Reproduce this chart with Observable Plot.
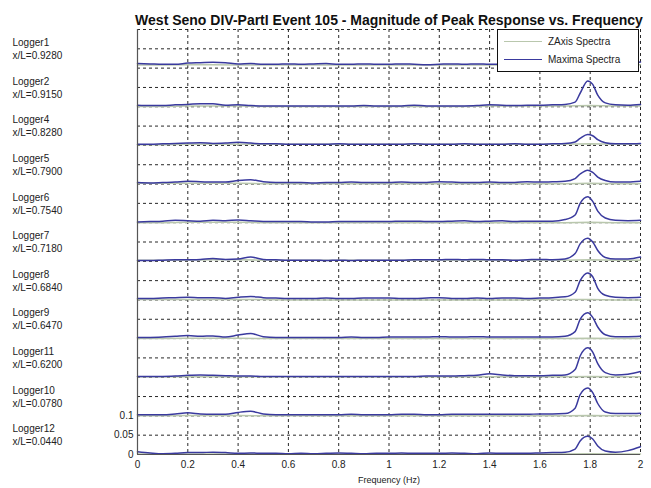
<!DOCTYPE html>
<html>
<head>
<meta charset="utf-8">
<script src="https://cdn.jsdelivr.net/npm/d3@7"></script>
<script src="https://cdn.jsdelivr.net/npm/@observablehq/plot@0.6"></script>
<style>
  html, body { margin: 0; padding: 0; background: #fff; }
  #wrap { position: relative; width: 651px; height: 488px; font-family: "Liberation Sans", Arial, sans-serif; }
  #legend { position: absolute; left: 497px; top: 29px; width: 142px; height: 43px; background: #fff; border: 1px solid #111; box-sizing: border-box; font-size: 10px; color: #222; }
  #legend .row { position: absolute; left: 6px; height: 14px; display: flex; align-items: center; }
  #legend .sw { width: 38px; height: 0; margin-right: 6px; }
</style>
</head>
<body>
<div id="wrap">
  <div id="chart"></div>
  <div id="legend">
    <div class="row" style="top:4px"><div class="sw" style="border-top:1.2px solid #b9c7ad"></div><span>ZAxis Spectra</span></div>
    <div class="row" style="top:22px"><div class="sw" style="border-top:1.5px solid #3a3a9e"></div><span>Maxima Spectra</span></div>
  </div>
</div>
<script>
const TITLE = "West Seno DIV-PartI Event 105 - Magnitude of Peak Response vs. Frequency";
const X_LABEL = "Frequency (Hz)";
const X_TICKS = [0, 0.2, 0.4, 0.6, 0.8, 1, 1.2, 1.4, 1.6, 1.8, 2];
const Y_TICKS = [0, 0.05, 0.1];
const LOGGERS = ["Logger1", "Logger2", "Logger4", "Logger5", "Logger6", "Logger7", "Logger8", "Logger9", "Logger11", "Logger10", "Logger12"];
const XL = ["0.9280", "0.9150", "0.8280", "0.7900", "0.7540", "0.7180", "0.6840", "0.6470", "0.6200", "0.0780", "0.0440"];
const PANEL_STEP = 0.1;

// frequency samples for the Maxima spectra (Hz)
const FREQ = [0,0.05,0.1,0.15,0.2,0.25,0.3,0.35,0.4,0.45,0.5,0.55,0.6,0.65,0.7,0.75,0.8,0.85,0.9,0.95,1.0,1.05,1.1,1.15,1.2,1.25,1.3,1.35,1.4,1.45,1.5,1.55,1.6,1.65,1.7,1.74,1.76,1.79,1.81,1.83,1.86,1.9,1.95,2.0];

const MAX_LOGGER1  = [0.012,0.011,0.010,0.010,0.013,0.014,0.015,0.014,0.011,0.012,0.010,0.010,0.011,0.010,0.011,0.012,0.010,0.010,0.011,0.010,0.010,0.011,0.010,0.009,0.010,0.011,0.010,0.011,0.010,0.010,0.011,0.012,0.010,0.011,0.012,0.014,0.018,0.022,0.020,0.016,0.012,0.011,0.012,0.016];
const MAX_LOGGER2  = [0.004,0.003,0.003,0.005,0.006,0.008,0.008,0.004,0.005,0.003,0.002,0.002,0.002,0.002,0.002,0.002,0.002,0.002,0.003,0.002,0.002,0.002,0.004,0.002,0.002,0.002,0.002,0.003,0.005,0.004,0.003,0.004,0.004,0.005,0.006,0.012,0.035,0.067,0.058,0.030,0.010,0.005,0.004,0.006];
const MAX_LOGGER4  = [0.003,0.003,0.004,0.005,0.006,0.007,0.005,0.006,0.008,0.006,0.004,0.004,0.003,0.003,0.003,0.003,0.004,0.003,0.003,0.003,0.003,0.003,0.004,0.003,0.003,0.003,0.004,0.003,0.003,0.003,0.004,0.003,0.003,0.004,0.005,0.009,0.018,0.028,0.025,0.015,0.007,0.004,0.004,0.005];
const MAX_LOGGER5  = [0.004,0.003,0.004,0.005,0.007,0.006,0.005,0.005,0.009,0.011,0.006,0.004,0.004,0.004,0.003,0.004,0.004,0.005,0.004,0.004,0.004,0.005,0.004,0.004,0.006,0.005,0.004,0.004,0.005,0.004,0.004,0.006,0.005,0.006,0.007,0.014,0.026,0.036,0.030,0.018,0.009,0.005,0.005,0.007];
const MAX_LOGGER6  = [0.002,0.003,0.004,0.006,0.005,0.004,0.006,0.005,0.007,0.005,0.003,0.003,0.003,0.003,0.002,0.002,0.003,0.003,0.003,0.003,0.003,0.004,0.004,0.003,0.003,0.004,0.005,0.003,0.004,0.005,0.003,0.004,0.004,0.004,0.008,0.020,0.050,0.067,0.055,0.030,0.012,0.006,0.005,0.006];
const MAX_LOGGER7  = [0.002,0.002,0.003,0.004,0.004,0.005,0.007,0.005,0.006,0.011,0.005,0.004,0.003,0.003,0.003,0.002,0.003,0.002,0.003,0.003,0.003,0.003,0.004,0.004,0.004,0.005,0.004,0.005,0.004,0.004,0.003,0.004,0.005,0.004,0.006,0.020,0.045,0.060,0.050,0.028,0.010,0.006,0.006,0.011];
const MAX_LOGGER8  = [0.004,0.004,0.005,0.006,0.007,0.006,0.006,0.004,0.007,0.009,0.006,0.005,0.004,0.004,0.004,0.005,0.004,0.004,0.005,0.005,0.005,0.004,0.004,0.005,0.006,0.004,0.004,0.005,0.004,0.005,0.005,0.004,0.005,0.006,0.008,0.020,0.050,0.070,0.060,0.030,0.012,0.007,0.006,0.007];
const MAX_LOGGER9  = [0.003,0.003,0.004,0.006,0.008,0.006,0.007,0.004,0.009,0.013,0.005,0.003,0.003,0.003,0.003,0.003,0.003,0.004,0.003,0.003,0.004,0.004,0.004,0.004,0.005,0.004,0.004,0.005,0.004,0.004,0.004,0.004,0.004,0.004,0.006,0.018,0.050,0.067,0.055,0.030,0.010,0.005,0.005,0.006];
const MAX_LOGGER11 = [0.002,0.002,0.002,0.003,0.005,0.006,0.005,0.004,0.003,0.003,0.002,0.002,0.002,0.002,0.002,0.002,0.002,0.002,0.002,0.002,0.002,0.002,0.002,0.003,0.003,0.003,0.004,0.005,0.009,0.006,0.004,0.004,0.004,0.005,0.006,0.020,0.055,0.076,0.065,0.035,0.012,0.006,0.008,0.015];
const MAX_LOGGER10 = [0.003,0.003,0.003,0.005,0.008,0.005,0.004,0.004,0.009,0.012,0.005,0.003,0.003,0.003,0.003,0.003,0.003,0.004,0.003,0.003,0.003,0.004,0.004,0.003,0.003,0.004,0.004,0.004,0.004,0.004,0.004,0.004,0.005,0.005,0.006,0.020,0.055,0.072,0.060,0.032,0.010,0.006,0.006,0.007];
const MAX_LOGGER12 = [0.007,0.004,0.002,0.003,0.005,0.005,0.006,0.005,0.003,0.004,0.003,0.003,0.002,0.003,0.002,0.003,0.004,0.003,0.002,0.003,0.003,0.004,0.003,0.003,0.003,0.004,0.003,0.002,0.004,0.003,0.003,0.003,0.004,0.005,0.006,0.014,0.035,0.047,0.040,0.022,0.009,0.006,0.010,0.020];

// frequency samples for the ZAxis spectra (Hz)
const FREQ_Z = [0,0.1,0.2,0.3,0.4,0.5,0.6,0.7,0.8,0.9,1.0,1.1,1.2,1.3,1.4,1.5,1.6,1.7,1.8,1.9,2.0];
const Z_LOGGER1  = [0.008,0.008,0.009,0.009,0.008,0.008,0.008,0.008,0.008,0.008,0.008,0.008,0.008,0.008,0.008,0.008,0.008,0.008,0.009,0.008,0.009];
const Z_LOGGER2  = [0.001,0.001,0.002,0.002,0.002,0.001,0.001,0.001,0.001,0.001,0.001,0.001,0.001,0.001,0.002,0.002,0.002,0.002,0.003,0.002,0.002];
const Z_LOGGER4  = [0.002,0.002,0.003,0.003,0.003,0.003,0.003,0.003,0.003,0.003,0.003,0.003,0.003,0.003,0.003,0.003,0.003,0.003,0.004,0.003,0.003];
const Z_LOGGER5  = [0.002,0.002,0.002,0.002,0.002,0.001,0.001,0.001,0.001,0.001,0.001,0.001,0.001,0.001,0.001,0.001,0.001,0.001,0.002,0.001,0.001];
const Z_LOGGER6  = [0.000,0.000,0.001,0.001,0.001,0.000,0.000,0.000,0.000,0.000,0.000,0.000,0.000,0.000,0.000,0.000,0.000,0.000,0.001,0.000,0.000];
const Z_LOGGER7  = [0.003,0.003,0.003,0.004,0.004,0.003,0.003,0.003,0.003,0.003,0.003,0.003,0.003,0.003,0.003,0.003,0.003,0.003,0.004,0.003,0.003];
const Z_LOGGER8  = [0.001,0.001,0.001,0.001,0.001,0.001,0.000,0.000,0.000,0.000,0.000,0.000,0.000,0.000,0.000,0.000,0.001,0.001,0.001,0.000,0.000];
const Z_LOGGER9  = [0.000,0.000,0.001,0.001,0.001,0.000,0.000,0.000,0.000,0.000,0.000,0.000,0.000,0.000,0.000,0.000,0.000,0.000,0.001,0.000,0.000];
const Z_LOGGER11 = [0.001,0.001,0.001,0.001,0.001,0.001,0.001,0.001,0.001,0.001,0.001,0.001,0.001,0.001,0.001,0.001,0.001,0.001,0.002,0.001,0.001];
const Z_LOGGER10 = [0.000,0.000,0.001,0.001,0.001,0.000,0.000,0.000,0.000,0.000,0.000,0.000,0.000,0.000,0.000,0.000,0.000,0.000,0.001,0.000,0.000];
const Z_LOGGER12 = [0.001,0.001,0.001,0.001,0.001,0.001,0.001,0.001,0.001,0.001,0.001,0.001,0.001,0.001,0.001,0.001,0.001,0.001,0.002,0.001,0.001];

const MAXIMA = [MAX_LOGGER1, MAX_LOGGER2, MAX_LOGGER4, MAX_LOGGER5, MAX_LOGGER6, MAX_LOGGER7, MAX_LOGGER8, MAX_LOGGER9, MAX_LOGGER11, MAX_LOGGER10, MAX_LOGGER12];
const ZAXIS = [Z_LOGGER1, Z_LOGGER2, Z_LOGGER4, Z_LOGGER5, Z_LOGGER6, Z_LOGGER7, Z_LOGGER8, Z_LOGGER9, Z_LOGGER11, Z_LOGGER10, Z_LOGGER12];

const N = LOGGERS.length;
const offsetOf = i => (N - 1 - i) * PANEL_STEP;

const maxRows = MAXIMA.flatMap((vals, i) => vals.map((v, j) => ({logger: LOGGERS[i], f: FREQ[j], y: v + offsetOf(i)})));
const zRows = ZAXIS.flatMap((vals, i) => vals.map((v, j) => ({logger: LOGGERS[i], f: FREQ_Z[j], y: v + offsetOf(i)})));
const labelRows = LOGGERS.map((name, i) => ({name, xl: "x/L=" + XL[i], y: offsetOf(i) + PANEL_STEP / 2}));
const yGrid = d3.range(0, N * PANEL_STEP + 1e-9, PANEL_STEP / 2).map(v => +v.toFixed(3));

const chart = Plot.plot({
  width: 651,
  height: 488,
  marginLeft: 137,
  marginRight: 11,
  marginTop: 29,
  marginBottom: 34,
  x: {domain: [0, 2]},
  y: {domain: [0, N * PANEL_STEP]},
  style: {fontFamily: "'Liberation Sans', Arial, sans-serif", fontSize: "10px", color: "#222", background: "#fff"},
  marks: [
    Plot.gridX(X_TICKS, {stroke: "#111", strokeOpacity: 0.9, strokeDasharray: "3,3", strokeWidth: 1}),
    Plot.gridY(yGrid, {stroke: "#111", strokeOpacity: 0.9, strokeDasharray: "3,3", strokeWidth: 1}),
    Plot.line(zRows, {x: "f", y: "y", z: "logger", stroke: "#b9c7ad", strokeWidth: 1.5}),
    Plot.line(maxRows, {x: "f", y: "y", z: "logger", stroke: "#3a3a9e", strokeWidth: 1.5, curve: "monotone-x"}),
    Plot.ruleX([0], {stroke: "#555", strokeWidth: 1.2}),
    Plot.ruleY([0], {stroke: "#555", strokeWidth: 1.2}),
    Plot.axisX(X_TICKS, {tickSize: 0, tickPadding: 6, label: null, tickFormat: d => String(+d.toFixed(1)), fontSize: 10}),
    Plot.axisY(Y_TICKS, {tickSize: 0, tickPadding: 4, label: null, tickFormat: d => String(d), fontSize: 10}),
    Plot.text([X_LABEL], {frameAnchor: "bottom", dy: 28, fontSize: 9}),
    Plot.text([TITLE], {frameAnchor: "top", dy: -14, fontSize: 14, fontWeight: "bold", fill: "#111"}),
    Plot.text(labelRows, {y: "y", text: "name", frameAnchor: "left", dx: -125, dy: -6, textAnchor: "start", fontSize: 10}),
    Plot.text(labelRows, {y: "y", text: "xl", frameAnchor: "left", dx: -125, dy: 7, textAnchor: "start", fontSize: 10})
  ]
});
document.getElementById("chart").appendChild(chart);
</script>
</body>
</html>
